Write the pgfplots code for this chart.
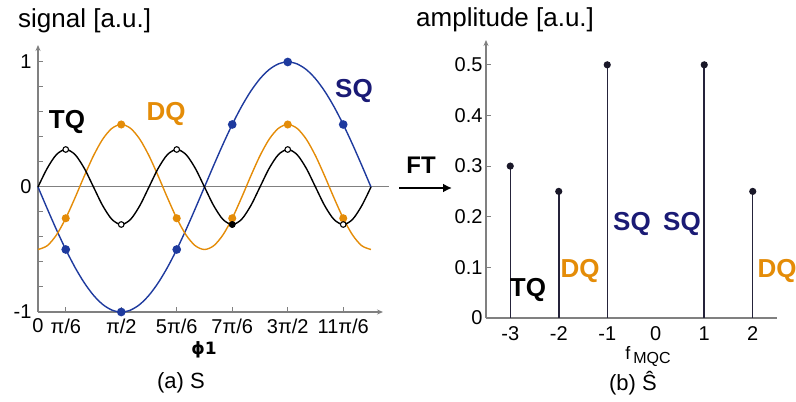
\documentclass[border=0pt]{standalone}
\usepackage{pgfplots}
\pgfplotsset{compat=1.18}
\usepackage{pgfplotstable}
\usepackage{fontspec}
\setmainfont{Liberation Sans}
\newfontfamily\dejavu{DejaVu Sans}
\usetikzlibrary{arrows.meta}
\definecolor{sqblue}{HTML}{1E3A9E}
\definecolor{dqorange}{HTML}{E48C08}
\definecolor{stemc}{HTML}{25233A}
\definecolor{sqtext}{HTML}{1A1A75}
\definecolor{axgray}{HTML}{808080}

\pgfplotstableread{
x sq dq tq
0 0 -0.5 0
10 -0.1736 -0.4698 0.15
20 -0.3420 -0.3830 0.2598
30 -0.5 -0.25 0.3
40 -0.6428 -0.0868 0.2598
50 -0.7660 0.0868 0.15
60 -0.8660 0.25 0
70 -0.9397 0.3830 -0.15
80 -0.9848 0.4698 -0.2598
90 -1 0.5 -0.3
100 -0.9848 0.4698 -0.2598
110 -0.9397 0.3830 -0.15
120 -0.8660 0.25 0
130 -0.7660 0.0868 0.15
140 -0.6428 -0.0868 0.2598
150 -0.5 -0.25 0.3
160 -0.3420 -0.3830 0.2598
170 -0.1736 -0.4698 0.15
180 0 -0.5 0
190 0.1736 -0.4698 -0.15
200 0.3420 -0.3830 -0.2598
210 0.5 -0.25 -0.3
220 0.6428 -0.0868 -0.2598
230 0.7660 0.0868 -0.15
240 0.8660 0.25 0
250 0.9397 0.3830 0.15
260 0.9848 0.4698 0.2598
270 1 0.5 0.3
280 0.9848 0.4698 0.2598
290 0.9397 0.3830 0.15
300 0.8660 0.25 0
310 0.7660 0.0868 -0.15
320 0.6428 -0.0868 -0.2598
330 0.5 -0.25 -0.3
340 0.3420 -0.3830 -0.2598
350 0.1736 -0.4698 -0.15
360 0 -0.5 0
}\sig

\pgfplotstableread{
f a
-3 0.3
-2 0.25
-1 0.5
1 0.5
2 0.25
}\spec

\begin{document}
\begin{tikzpicture}[x=1pt,y=1pt]
\useasboundingbox (0pt,0pt) rectangle (796pt,402pt);
\begin{axis}[
  at={(38pt,90pt)}, anchor=south west, scale only axis,
  width=345pt, height=267pt,
  xmin=0, xmax=373, ymin=-1, ymax=1.136,
  axis lines=left,
  axis line style={axgray, line width=1.1pt},
  every outer x axis line/.append style={-{Stealth[length=6pt,width=5pt]}},
  every outer y axis line/.append style={-{Stealth[length=6pt,width=5pt]}},
  xtick={0,30,90,150,210,270,330},
  xticklabels={0,π/6,π/2,5π/6,7π/6,3π/2,11π/6},
  ytick={-1,0,1},
  yticklabels={\raisebox{-6pt}{-1},0,1},
  minor ytick={-0.8,-0.6,-0.4,-0.2,0.2,0.4,0.6,0.8},
  tick align=inside,
  major tick length=5pt, minor tick length=5pt,
  every tick/.style={axgray, line width=1pt},
  ticklabel style={font=\fontsize{20}{20}\selectfont},
  xticklabel style={yshift=-3pt},
  yticklabel style={xshift=-3pt},
  /pgf/number format/assume math mode=true,
  clip=false,
]
\addplot[axgray, line width=1pt, forget plot] coordinates {(0,0) (380,0)};
\addplot[sqblue, line width=1.4pt, smooth, mark=*, mark repeat=6, mark phase=4, mark size=3.6pt, mark options={fill=sqblue, draw=sqblue}] table[x=x, y=sq] {\sig};
\addplot[dqorange, line width=1.4pt, smooth, mark=*, mark repeat=6, mark phase=4, mark size=3.3pt, mark options={fill=dqorange, draw=dqorange}] table[x=x, y=dq] {\sig};
\addplot[black, line width=1.4pt, smooth, mark=*, mark repeat=6, mark phase=4, mark size=2.8pt, mark options={fill=white, draw=black, line width=1.1pt}] table[x=x, y=tq] {\sig};
\addplot[only marks, mark=*, mark size=3pt, black] coordinates {(210,-0.3)};
\end{axis}

\begin{axis}[
  at={(486pt,84pt)}, anchor=south west, scale only axis,
  width=291pt, height=278pt,
  xmin=-3.5, xmax=2.5, ymin=0, ymax=0.549,
  axis lines=left,
  axis line style={axgray, line width=1.1pt},
  every outer x axis line/.append style={-},
  every outer y axis line/.append style={-{Stealth[length=6pt,width=5pt]}},
  xtick={-3,-2,-1,0,1,2},
  ytick={0,0.1,0.2,0.3,0.4,0.5},
  tick align=inside,
  major tick length=5pt,
  every tick/.style={axgray, line width=1pt},
  x tick style={draw=none},
  ticklabel style={font=\fontsize{20}{20}\selectfont},
  xticklabel style={yshift=-5pt},
  yticklabel style={/pgf/number format/fixed, /pgf/number format/precision=1},
  /pgf/number format/assume math mode=true,
  clip=false,
]
\addplot[ycomb, stemc, line width=1.5pt, mark=*, mark size=2.8pt, mark options={fill=stemc!70!black, draw=stemc!70!black}] table[x=f, y=a] {\spec};
\end{axis}

% titles and labels
\node[anchor=west, inner sep=0pt] at (18pt,381pt) {\fontsize{26}{26}\selectfont signal [a.u.]};
\node[anchor=west, inner sep=0pt] at (416pt,382pt) {\fontsize{26}{26}\selectfont amplitude [a.u.]};
\node[inner sep=0pt] at (204pt,52pt) {\dejavu\bfseries\fontsize{17}{17}\selectfont ϕ1};
\node[inner sep=0pt] at (181pt,19pt) {\fontsize{22}{22}\selectfont (a) S};
\node[inner sep=0pt] at (633pt,19pt) {\fontsize{22}{22}\selectfont (b) Ŝ};
\node[inner sep=0pt] at (648pt,46pt) {\fontsize{18}{18}\selectfont f\,\raisebox{-4pt}{\fontsize{16}{16}\selectfont MQC}};
\node[inner sep=0pt] at (421pt,237pt) {\bfseries\fontsize{24}{24}\selectfont FT};
\draw[black, line width=2.5pt, -{Latex[length=9pt,width=9pt]}] (399pt,214pt) -- (452pt,214pt);

\begin{scope}[every node/.style={inner sep=0pt, font=\bfseries\fontsize{26}{26}\selectfont}]
\node[black] at (67pt,280pt) {TQ};
\node[dqorange] at (166pt,288pt) {DQ};
\node[sqtext] at (354pt,311pt) {SQ};
\node[black] at (528pt,112pt) {TQ};
\node[dqorange] at (580pt,131pt) {DQ};
\node[sqtext] at (632pt,178pt) {SQ};
\node[sqtext] at (682pt,178pt) {SQ};
\node[dqorange] at (777pt,131pt) {DQ};
\end{scope}
\end{tikzpicture}
\end{document}
